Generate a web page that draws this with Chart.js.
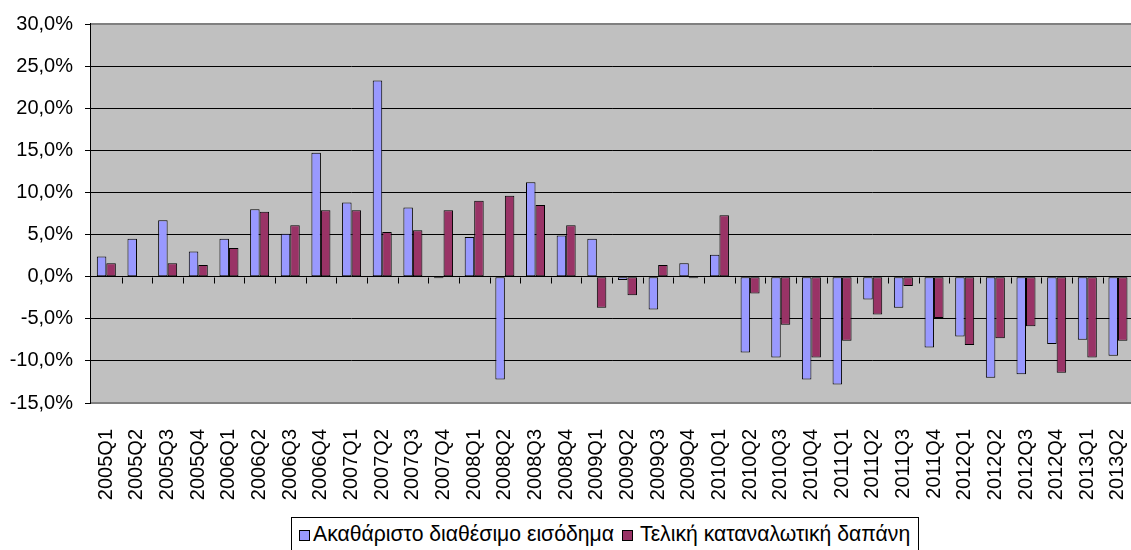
<!DOCTYPE html>
<html>
<head>
<meta charset="utf-8">
<script src="https://cdn.jsdelivr.net/npm/chart.js@4.4.1/dist/chart.umd.min.js"></script>
<style>
  body { margin: 0; background: #fff; overflow: hidden; font-family: 'Liberation Sans', Arial, sans-serif; }
  #chart { position: absolute; left: 0; top: 0; }
  #legend {
    position: absolute; left: 291px; top: 517px;
    border: 1px solid #000; background: #fff;
    padding: 3px 8px 10px 7px;
    font-size: 21.2px; line-height: 25px; white-space: nowrap; color: #000;
  }
  #legend .sw { display: inline-block; width: 9px; height: 9px; border: 1px solid #000; margin-right: 3px; }
  #legend .item2 { margin-left: 8px; }
  #legend .item2 .sw { margin-right: 7px; }
</style>
</head>
<body>
<canvas id="chart" width="1160" height="550"></canvas>
<div id="legend"></div>
<script>
'use strict';

const quarters = [
  '2005Q1', '2005Q2', '2005Q3', '2005Q4',
  '2006Q1', '2006Q2', '2006Q3', '2006Q4',
  '2007Q1', '2007Q2', '2007Q3', '2007Q4',
  '2008Q1', '2008Q2', '2008Q3', '2008Q4',
  '2009Q1', '2009Q2', '2009Q3', '2009Q4',
  '2010Q1', '2010Q2', '2010Q3', '2010Q4',
  '2011Q1', '2011Q2', '2011Q3', '2011Q4',
  '2012Q1', '2012Q2', '2012Q3', '2012Q4',
  '2013Q1', '2013Q2',
];

// Ακαθάριστο διαθέσιμο εισόδημα (% change)
const incomeValues = [
  2.4, 4.5, 6.7, 3.0, 4.5, 8.0, 5.1, 14.7, 8.8, 23.3, 8.2, -0.2,
  4.7, -12.2, 11.2, 4.9, 4.5, -0.4, -3.9, 1.6, 2.6, -9.0, -9.6, -12.2,
  -12.8, -2.7, -3.7, -8.4, -7.1, -12.0, -11.6, -8.0, -7.5, -9.4,
];

// Τελική καταναλωτική δαπάνη (% change)
const spendingValues = [
  1.6, null, 1.6, 1.4, 3.4, 7.7, 6.1, 7.9, 7.9, 5.3, 5.5, 7.9,
  9.0, 9.6, 8.5, 6.1, -3.7, -2.2, 1.4, -0.2, 7.3, -2.0, -5.7, -9.6,
  -7.6, -4.5, -1.1, -4.9, -8.1, -7.3, -5.9, -11.4, -9.6, -7.6,
];

const seriesLabels = ['Ακαθάριστο διαθέσιμο εισόδημα', 'Τελική καταναλωτική δαπάνη'];
const seriesColors = ['#9999FF', '#993366'];

const yMin = -15;
const yMax = 30;
const yStep = 5;

const FONT = { family: "'Liberation Sans', Arial, sans-serif", size: 20 };

// grey plot area + grey frame
const plotArea = {
  id: 'plotArea',
  beforeDraw(chart) {
    const { ctx, chartArea: a } = chart;
    ctx.save();
    ctx.fillStyle = '#C0C0C0';
    ctx.fillRect(a.left, a.top, a.right - a.left, a.bottom - a.top);
    ctx.restore();
  },
  beforeDatasetsDraw(chart) {
    // small category ticks hanging below the zero line
    const { ctx } = chart;
    const x = chart.scales.x;
    const y0 = Math.round(chart.scales.y.getPixelForValue(0)) + 0.5;
    ctx.save();
    ctx.strokeStyle = '#000';
    ctx.lineWidth = 1;
    ctx.beginPath();
    for (let i = 1; i < quarters.length; i++) {
      const px = Math.round((x.getPixelForValue(i - 1) + x.getPixelForValue(i)) / 2) + 0.5;
      ctx.moveTo(px, y0);
      ctx.lineTo(px, y0 + 6);
    }
    ctx.stroke();
    ctx.restore();
  },
  afterDraw(chart) {
    const { ctx, chartArea: a } = chart;
    ctx.save();
    ctx.strokeStyle = '#808080';
    ctx.lineWidth = 2;
    ctx.beginPath();
    ctx.moveTo(a.left, a.top);
    ctx.lineTo(a.right, a.top);
    ctx.lineTo(a.right, a.bottom);
    ctx.lineTo(a.left, a.bottom);
    ctx.stroke();
    ctx.strokeStyle = '#000';
    ctx.lineWidth = 1;
    ctx.beginPath();
    ctx.moveTo(Math.round(a.left) - 0.5, a.top - 1);
    ctx.lineTo(Math.round(a.left) - 0.5, a.bottom + 1);
    ctx.stroke();
    ctx.restore();
  },
};

const chartData = {
  labels: quarters,
  datasets: [
    {
      label: seriesLabels[0],
      data: incomeValues,
      backgroundColor: seriesColors[0],
      borderColor: '#000',
      borderWidth: 1,
      borderSkipped: false,
    },
    {
      label: seriesLabels[1],
      data: spendingValues,
      backgroundColor: seriesColors[1],
      borderColor: '#000',
      borderWidth: 1,
      borderSkipped: false,
    },
  ],
};

const options = {
  responsive: false,
  animation: false,
  layout: { padding: { top: 22, right: 2, bottom: 0, left: 0 } },
  datasets: {
    bar: { categoryPercentage: 0.62, barPercentage: 1.0 },
  },
  scales: {
    x: {
      grid: { display: false },
      border: { display: false },
      ticks: {
        font: FONT,
        color: '#000',
        minRotation: 90,
        maxRotation: 90,
        autoSkip: false,
        padding: 18,
      },
      afterFit(scale) {
        scale.height = 147;
      },
    },
    y: {
      min: yMin,
      max: yMax,
      border: { display: false },
      grid: {
        color: (c) => (c.tick && (c.tick.value === yMin || c.tick.value === yMax) ? 'rgba(0,0,0,0)' : '#000'),
        tickColor: '#000',
        tickLength: 6,
        lineWidth: 1,
      },
      ticks: {
        stepSize: yStep,
        font: FONT,
        color: '#000',
        padding: 12,
        callback: function (value) {
          return value.toFixed(1).replace('.', ',') + '%';
        },
      },
      afterFit(scale) {
        scale.width = 91;
      },
    },
  },
  plugins: {
    legend: { display: false },
    tooltip: { enabled: false },
  },
};

const config = {
  type: 'bar',
  data: chartData,
  options: options,
  plugins: [plotArea],
};

const ctx = document.getElementById('chart');
const myChart = new Chart(ctx, config);

// legend box, built from the series
const legend = document.getElementById('legend');
legend.innerHTML = seriesLabels
  .map((label, i) => {
    return '<span class="item' + (i + 1) + '"><span class="sw" style="background:' +
      seriesColors[i] + '"></span>' + label + '</span>';
  })
  .join('');
</script>
</body>
</html>
